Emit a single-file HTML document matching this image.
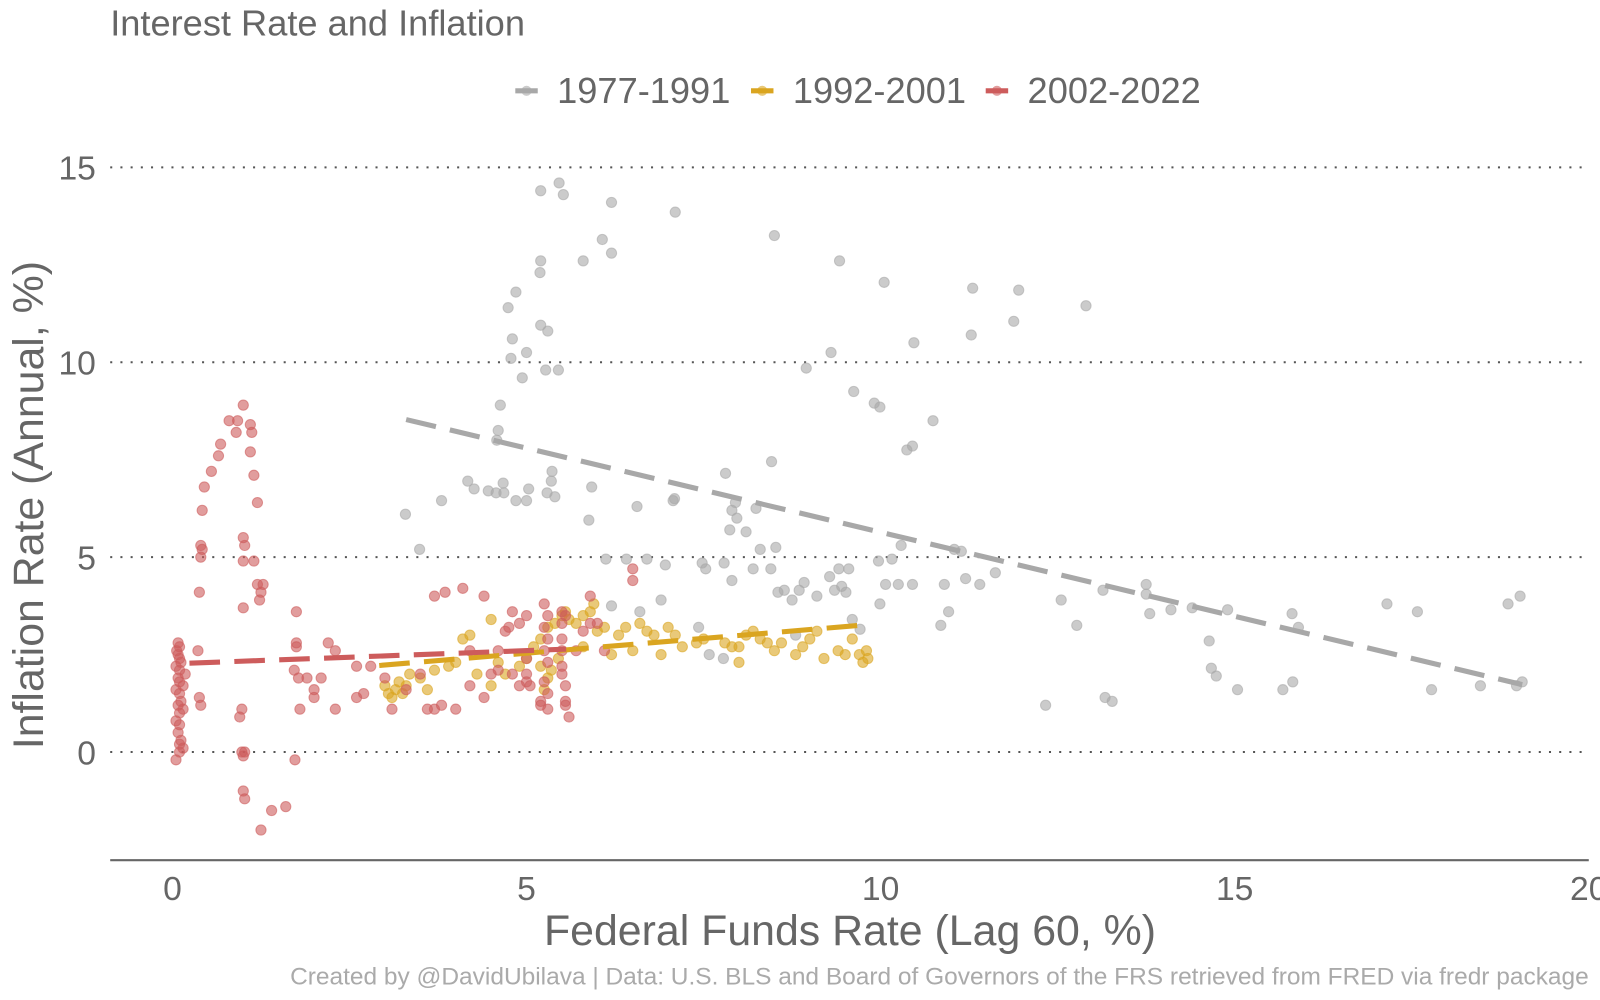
<!DOCTYPE html>
<html><head><meta charset="utf-8"><style>
html,body{margin:0;padding:0;background:#fff;}
svg{display:block;font-family:"Liberation Sans",Arial,sans-serif;}
</style></head><body>
<svg id="chart" width="1600" height="1000" viewBox="0 0 1568 980" xmlns="http://www.w3.org/2000/svg">
<rect width="1568" height="980" fill="#fff"/>
<text x="108" y="35" font-size="35.5" fill="#666">Interest Rate and Inflation</text>
<g font-size="35.5" fill="#666">
 <g><line x1="505" y1="89" x2="527" y2="89" stroke="#a8a8a8" stroke-width="5"/><circle cx="516" cy="89" r="5" fill="#a8a8a8" opacity="0.6"/><text x="546" y="101">1977-1991</text></g>
 <g><line x1="736" y1="89" x2="758" y2="89" stroke="#DAA520" stroke-width="5"/><circle cx="747" cy="89" r="5" fill="#DAA520" opacity="0.6"/><text x="777" y="101">1992-2001</text></g>
 <g><line x1="966" y1="89" x2="988" y2="89" stroke="#CD5C5C" stroke-width="5"/><circle cx="977" cy="89" r="5" fill="#CD5C5C" opacity="0.6"/><text x="1007" y="101">2002-2022</text></g>
</g>
<g id="grid"></g>
<g id="marks"></g>
<g id="axes"></g>
<text transform="translate(42,495) rotate(-90)" text-anchor="middle" font-size="42" fill="#666">Inflation Rate (Annual, %)</text>
<text x="833" y="926" text-anchor="middle" font-size="42" fill="#666">Federal Funds Rate (Lag 60, %)</text>
<text x="1557" y="965" text-anchor="end" font-size="24" fill="#aaa">Created by @DavidUbilava | Data: U.S. BLS and Board of Governors of the FRS retrieved from FRED via fredr package</text>
</svg>
<script>
const xTicks=[0,5,10,15,20];
const yTicks=[0,5,10,15];
const gray=[[5.2,14.4],[5.46,14.6],[5.52,14.3],[6.2,14.1],[6.07,13.15],[6.2,12.8],[5.8,12.6],[5.19,12.3],[5.2,12.6],[7.1,13.85],[8.5,13.25],[9.42,12.6],[10.05,12.05],[11.3,11.9],[11.95,11.85],[11.88,11.05],[11.28,10.7],[12.9,11.45],[4.85,11.8],[4.74,11.4],[5.2,10.95],[5.3,10.8],[4.8,10.6],[5.0,10.25],[4.78,10.1],[5.27,9.8],[5.45,9.8],[4.94,9.6],[9.3,10.25],[8.95,9.85],[9.62,9.25],[9.91,8.95],[9.99,8.85],[10.47,10.5],[10.74,8.5],[10.45,7.85],[10.37,7.75],[4.63,8.9],[4.6,8.25],[4.58,8.0],[8.46,7.45],[7.81,7.15],[5.36,7.2],[5.35,6.95],[4.17,6.95],[4.26,6.75],[4.46,6.7],[4.57,6.65],[4.67,6.9],[4.68,6.65],[4.85,6.45],[5.0,6.45],[5.03,6.75],[5.29,6.65],[5.4,6.55],[5.92,6.8],[7.09,6.5],[7.07,6.45],[6.56,6.3],[7.95,6.4],[7.9,6.2],[8.24,6.25],[7.97,6.0],[8.1,5.65],[7.87,5.7],[3.8,6.45],[3.29,6.1],[3.49,5.2],[5.88,5.95],[6.12,4.95],[6.41,4.95],[6.7,4.95],[6.96,4.8],[7.48,4.85],[7.53,4.7],[8.3,5.2],[8.52,5.25],[7.79,4.85],[7.9,4.4],[8.2,4.7],[8.45,4.7],[8.55,4.1],[8.64,4.15],[8.75,3.9],[8.85,4.15],[9.1,4.0],[8.92,4.35],[9.28,4.5],[9.41,4.7],[9.55,4.7],[9.45,4.25],[9.35,4.15],[9.51,4.1],[9.97,4.9],[10.16,4.95],[10.25,4.3],[10.07,4.3],[10.45,4.3],[10.29,5.3],[9.99,3.8],[9.6,3.4],[9.71,3.15],[11.04,5.2],[11.14,5.15],[11.2,4.45],[11.4,4.3],[11.62,4.6],[10.9,4.3],[10.96,3.6],[10.85,3.25],[12.55,3.9],[12.77,3.25],[13.14,4.15],[13.75,4.3],[13.75,4.05],[13.8,3.55],[14.1,3.65],[14.4,3.7],[14.9,3.65],[14.64,2.85],[14.67,2.15],[14.74,1.95],[15.04,1.6],[12.33,1.2],[13.17,1.4],[13.27,1.3],[15.68,1.6],[15.82,1.8],[15.81,3.55],[15.9,3.2],[17.15,3.8],[17.58,3.6],[17.78,1.6],[18.47,1.7],[18.86,3.8],[19.03,4.0],[18.98,1.7],[19.06,1.8],[7.43,3.2],[7.58,2.5],[7.78,2.4],[6.2,3.75],[6.6,3.6],[6.9,3.9],[8.8,3.0]];
const yellow=[[3.0,1.7],[3.05,1.5],[3.1,1.4],[3.15,1.6],[3.2,1.8],[3.25,1.5],[3.3,1.7],[3.35,2.0],[3.5,1.9],[3.6,1.6],[3.7,2.1],[3.9,2.2],[4.0,2.3],[4.1,2.9],[4.2,3.0],[4.3,2.0],[4.5,1.7],[4.6,2.3],[4.7,2.0],[4.9,2.2],[5.0,2.4],[5.1,2.7],[5.2,2.9],[5.3,3.2],[5.4,3.3],[5.5,3.5],[5.55,3.6],[5.6,3.4],[5.7,3.3],[5.8,3.5],[5.9,3.6],[5.95,3.8],[6.0,3.1],[6.1,3.2],[5.3,1.9],[5.25,1.6],[5.35,2.1],[5.45,2.4],[4.5,3.4],[6.3,3.0],[6.4,3.2],[6.6,3.3],[6.7,3.1],[6.8,3.0],[7.0,3.2],[7.1,3.0],[7.2,2.7],[7.4,2.8],[7.5,2.9],[7.8,2.8],[8.0,2.7],[8.1,3.0],[8.2,3.1],[8.3,2.9],[8.4,2.8],[8.5,2.6],[8.6,2.8],[8.8,2.5],[8.9,2.7],[9.0,2.9],[9.2,2.4],[9.4,2.6],[9.5,2.5],[9.6,2.9],[9.7,2.5],[9.75,2.3],[9.8,2.6],[9.82,2.4],[9.1,3.1],[8.0,2.3],[7.9,2.7],[6.9,2.5],[6.5,2.6],[5.8,2.7],[5.2,2.2],[6.2,2.5]];
const red=[[0.05,-0.2],[0.1,0],[0.15,0.1],[0.1,0.2],[0.12,0.3],[0.08,0.5],[0.1,0.7],[0.05,0.8],[0.1,1.0],[0.15,1.1],[0.08,1.2],[0.12,1.3],[0.1,1.5],[0.05,1.6],[0.15,1.7],[0.1,1.8],[0.08,1.9],[0.18,2.0],[0.1,2.1],[0.05,2.2],[0.12,2.3],[0.1,2.4],[0.08,2.5],[0.06,2.6],[0.1,2.7],[0.08,2.8],[0.4,1.2],[0.38,1.4],[0.36,2.6],[0.38,4.1],[0.4,5.0],[0.4,5.3],[0.42,5.2],[0.42,6.2],[0.45,6.8],[0.55,7.2],[0.65,7.6],[0.68,7.9],[0.8,8.5],[0.9,8.2],[0.92,8.5],[1.0,8.9],[1.1,8.4],[1.12,8.2],[1.1,7.7],[1.15,7.1],[1.2,6.4],[1.0,5.5],[1.02,5.3],[1.0,4.9],[1.15,4.9],[1.2,4.3],[1.25,4.1],[1.23,3.9],[1.28,4.3],[1.0,3.7],[0.98,1.1],[0.95,0.9],[0.98,0],[1.0,-0.1],[1.02,0],[1.0,-1.0],[1.02,-1.2],[1.25,-2.0],[1.4,-1.5],[1.6,-1.4],[1.75,2.8],[1.75,2.7],[1.72,2.1],[1.78,1.9],[1.75,3.6],[1.73,-0.2],[1.8,1.1],[1.9,1.9],[2.0,1.6],[2.0,1.4],[2.1,1.9],[2.2,2.8],[2.3,2.6],[2.3,1.1],[2.6,1.4],[2.6,2.2],[2.7,1.5],[2.8,2.2],[3.0,1.9],[3.1,1.1],[3.3,1.6],[3.5,2.0],[3.6,1.1],[3.7,1.1],[3.8,1.2],[3.7,4.0],[3.85,4.1],[4.1,4.2],[4.0,1.1],[4.2,1.7],[4.4,1.4],[4.5,2.0],[4.6,2.1],[4.4,4.0],[4.6,2.6],[4.7,3.1],[4.8,3.6],[4.9,3.3],[4.9,1.7],[4.8,2.0],[5.0,3.5],[5.0,2.4],[5.0,2.0],[5.05,1.7],[5.2,1.2],[5.2,1.3],[5.25,3.8],[5.3,3.5],[5.25,3.2],[5.3,2.9],[5.25,2.6],[5.3,2.3],[5.3,1.5],[5.3,1.1],[5.25,1.8],[5.5,3.6],[5.55,3.5],[5.5,3.3],[5.5,2.9],[5.5,2.6],[5.5,2.2],[5.5,2.0],[5.55,1.7],[5.55,1.3],[5.55,1.2],[5.6,0.9],[5.8,3.1],[5.9,3.3],[5.9,4.0],[6.0,3.3],[6.5,4.7],[6.5,4.4],[6.1,2.6],[5.7,2.6],[5.0,1.8],[4.75,3.2],[4.2,2.6]];
const grayTrend=[[3.3,8.53],[19.06,1.73]];
const yellowTrend=[[2.92,2.22],[9.84,3.27]];
const redTrend=[[0.24,2.28],[5.56,2.64]];

const NS="http://www.w3.org/2000/svg";
const X=v=>169+v*69.4;
const Y=v=>737-v*38.2;
function mk(tag,attrs,parent){const e=document.createElementNS(NS,tag);for(const k in attrs)e.setAttribute(k,attrs[k]);parent.appendChild(e);return e;}
const grid=document.getElementById('grid'),marks=document.getElementById('marks'),axes=document.getElementById('axes');
yTicks.forEach(t=>{
  const l=mk('line',{x1:108,x2:1552,y1:Y(t),y2:Y(t),stroke:'#555','stroke-width':2,'stroke-dasharray':'2 8'},grid);
  
  
  const tx=mk('text',{x:94,y:Y(t)+12,'text-anchor':'end','font-size':33,fill:'#666'},axes);
  tx.textContent=t;
  
  
});
const ax=mk('line',{x1:108,x2:1557,y1:843,y2:843,stroke:'#666','stroke-width':2},axes);


xTicks.forEach(t=>{
  const tx=mk('text',{x:X(t),y:882,'text-anchor':'middle','font-size':33,fill:'#666'},axes);
  tx.textContent=t;
  
  
});
function series(data,color,name){
  const g=mk('g',{},marks);
  
  
  data.forEach(d=>{
    const c=mk('circle',{cx:X(d[0]),cy:Y(d[1]),r:5,fill:color,'fill-opacity':0.6,stroke:color,'stroke-opacity':0.6},g);
    
    
  });
}
function trend(t,color,name){
  const l=mk('line',{x1:X(t[0][0]),y1:Y(t[0][1]),x2:X(t[1][0]),y2:Y(t[1][1]),stroke:color,'stroke-width':5,'stroke-dasharray':'30 14'},marks);
  
  
}
series(gray,'#a8a8a8','1977-1991');
series(yellow,'#DAA520','1992-2001');
series(red,'#CD5C5C','2002-2022');
trend(grayTrend,'#a8a8a8','1977-1991');
trend(yellowTrend,'#DAA520','1992-2001');
trend(redTrend,'#CD5C5C','2002-2022');
</script>
</body></html>
